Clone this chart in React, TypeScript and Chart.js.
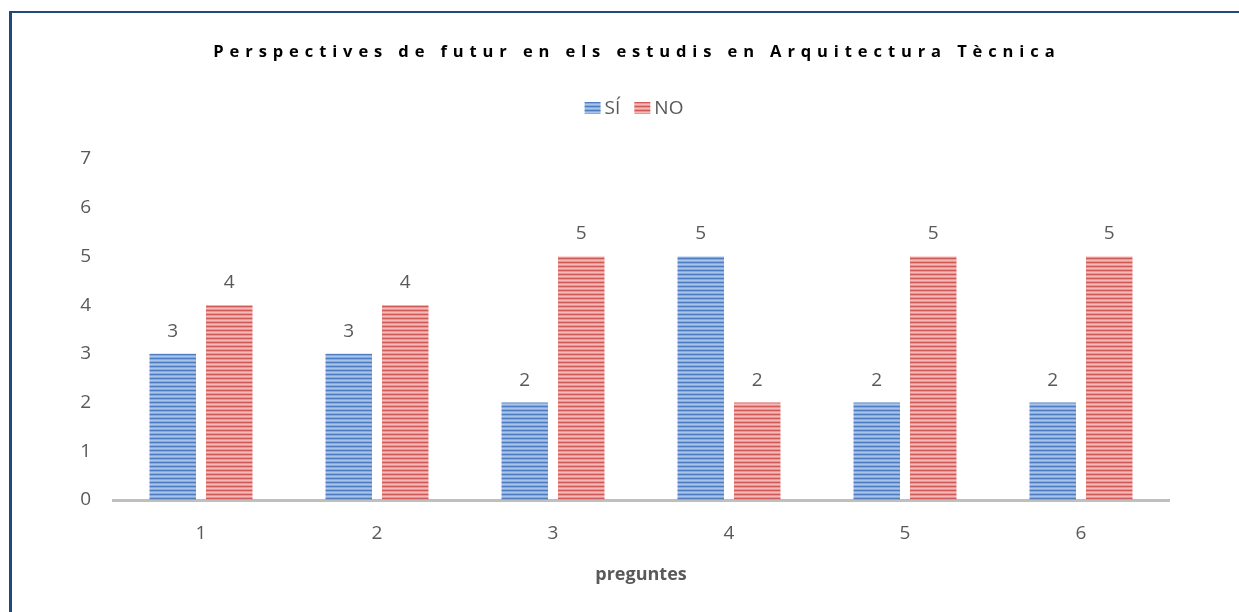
import React, { useEffect, useRef } from "react";
import { Chart, registerables } from "chart.js";

Chart.register(...registerables);

const categories = ["1", "2", "3", "4", "5", "6"];
const siValues = [3, 3, 2, 5, 2, 2];
const noValues = [4, 4, 5, 2, 5, 5];
const seriesNames = ["SÍ", "NO"];
const yMin = 0;
const yMax = 7;
const titleText = "Perspectives de futur en els estudis en Arquitectura Tècnica";
const xTitleText = "preguntes";

const TEXT_COLOR = "#595959";
const FONT = "'Open Sans', 'Liberation Sans', sans-serif";

function makePattern(rows: string[]): CanvasPattern | string {
  const c = document.createElement("canvas");
  c.width = 4;
  c.height = rows.length;
  const ctx = c.getContext("2d");
  if (!ctx) return rows[0];
  rows.forEach((col, i) => {
    ctx.fillStyle = col;
    ctx.fillRect(0, i, 4, 1);
  });
  const p = ctx.createPattern(c, "repeat");
  return p || rows[0];
}

export default function App() {
  const canvasRef = useRef<HTMLCanvasElement | null>(null);

  useEffect(() => {
    const canvas = canvasRef.current;
    if (!canvas) return;
    const bluePattern = makePattern(["#a8c5ee", "#86a9de", "#4f7dc0", "#86a9de"]);
    const redPattern = makePattern(["#f6b9b7", "#eb9491", "#cf5b58", "#eb9491"]);

    const overlayPlugin = {
      id: "overlay",
      afterDraw(chart: any) {
        const ctx = chart.ctx as CanvasRenderingContext2D;
        ctx.save();
        // Title with letter spacing
        ctx.font = `bold 16.5px ${FONT}`;
        ctx.fillStyle = "#000000";
        ctx.textBaseline = "alphabetic";
        ctx.textAlign = "left";
        const spacing = 5.9;
        let total = 0;
        const chars = Array.from(titleText);
        const widths = chars.map((ch) => ctx.measureText(ch).width);
        widths.forEach((w) => (total += w));
        total += spacing * (chars.length - 1);
        let x = 634 - total / 2;
        chars.forEach((ch, i) => {
          ctx.fillText(ch, x, 57);
          x += widths[i] + spacing;
        });

        // Legend
        ctx.font = `19px ${FONT}`;
        const boxW = 16;
        const boxH = 12;
        const gap = 4;
        const itemGap = 14;
        const w0 = ctx.measureText(seriesNames[0]).width;
        const w1 = ctx.measureText(seriesNames[1]).width;
        const legendTotal = boxW + gap + w0 + itemGap + boxW + gap + w1;
        let lx = 634 - legendTotal / 2;
        const fills = [bluePattern, redPattern];
        [w0, w1].forEach((w, i) => {
          ctx.fillStyle = fills[i] as any;
          ctx.fillRect(lx, 102, boxW, boxH);
          lx += boxW + gap;
          ctx.fillStyle = TEXT_COLOR;
          ctx.fillText(seriesNames[i], lx, 114);
          lx += w + itemGap;
        });

        // Data labels
        ctx.font = `19px ${FONT}`;
        ctx.fillStyle = TEXT_COLOR;
        ctx.textAlign = "center";
        ctx.textBaseline = "alphabetic";
        chart.data.datasets.forEach((ds: any, di: number) => {
          const meta = chart.getDatasetMeta(di);
          meta.data.forEach((bar: any, i: number) => {
            ctx.fillText(String(ds.data[i]), bar.x, bar.y - 17);
          });
        });
        ctx.restore();
      },
    };

    const chart = new Chart(canvas, {
      type: "bar",
      data: {
        labels: categories,
        datasets: [
          {
            label: seriesNames[0],
            data: siValues,
            backgroundColor: bluePattern as any,
            borderWidth: 0,
            categoryPercentage: 0.642,
            barPercentage: 0.823,
          },
          {
            label: seriesNames[1],
            data: noValues,
            backgroundColor: redPattern as any,
            borderWidth: 0,
            categoryPercentage: 0.642,
            barPercentage: 0.823,
          },
        ],
      },
      options: {
        responsive: false,
        animation: false,
        layout: { padding: { left: 0, right: 70, top: 159, bottom: 0 } },
        plugins: {
          legend: { display: false },
          title: { display: false },
          tooltip: { enabled: false },
        },
        scales: {
          x: {
            grid: { display: false, drawTicks: false },
            border: { display: true, color: "#bfbfbf", width: 3 },
            ticks: {
              color: TEXT_COLOR,
              font: { family: FONT, size: 19 },
              padding: 22,
            },
            title: {
              display: true,
              text: xTitleText,
              color: TEXT_COLOR,
              font: { family: FONT, size: 18, weight: "bold" },
              padding: { top: 0, bottom: 26 },
            },
            afterFit(scale: any) {
              scale.height = 112;
            },
          },
          y: {
            min: yMin,
            max: yMax,
            grid: { display: false, drawTicks: false },
            border: { display: false },
            ticks: {
              stepSize: 1,
              color: TEXT_COLOR,
              font: { family: FONT, size: 19 },
              padding: 22,
            },
            afterFit(scale: any) {
              scale.width = 113;
            },
          },
        },
      },
      plugins: [overlayPlugin],
    } as any);

    return () => {
      chart.destroy();
    };
  }, []);

  return (
    <div
      style={{
        position: "absolute",
        left: 0,
        top: 0,
        width: 1239,
        height: 612,
        overflow: "hidden",
        background: "#ffffff",
      }}
    >
      <div
        style={{
          position: "absolute",
          left: 9,
          top: 11,
          width: 1400,
          height: 800,
          borderLeft: "3px solid #1f4a7c",
          borderTop: "2px solid #1f4a7c",
        }}
      />
      <canvas
        ref={canvasRef}
        width={1239}
        height={612}
        style={{ position: "absolute", left: 0, top: 0, width: 1239, height: 612 }}
      />
    </div>
  );
}
